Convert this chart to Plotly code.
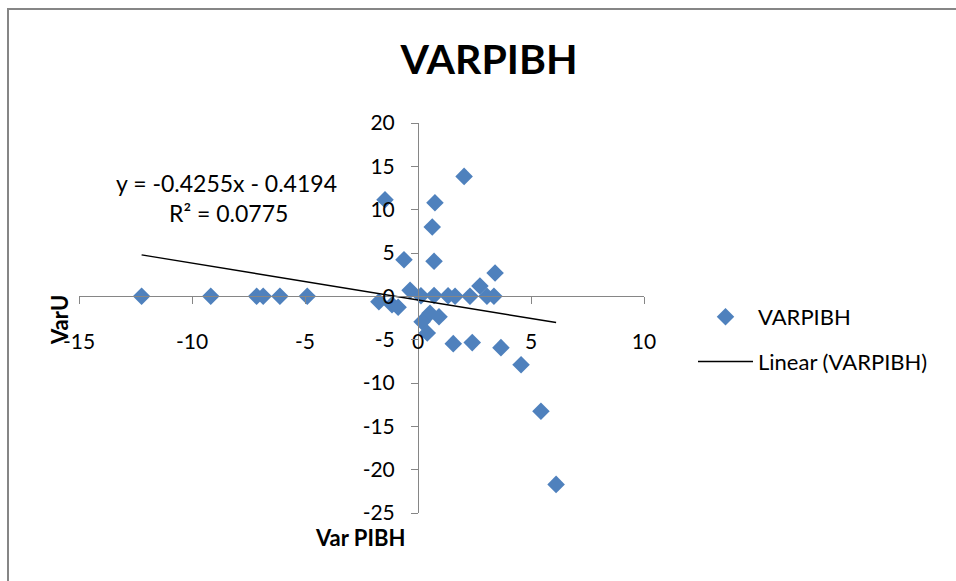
import plotly.graph_objects as go

# Data
var_pibh = [-12.23, -9.17, -7.14, -6.85, -6.11, -4.90, -1.46, 2.04, 0.75, 0.63,
            -0.62, 0.71, 3.41, -0.35, -1.73, -1.15, -0.88, 0.13, 0.71, 1.33,
            1.64, 2.30, 2.74, 3.05, 3.36, 0.53, 0.93, 0.18, 0.41, 1.56,
            2.40, 3.67, 4.56, 5.44, 6.11]
var_u = [0.0, 0.0, 0.0, 0.0, 0.0, 0.0, 11.15, 13.84, 10.8, 8.0,
         4.23, 4.04, 2.69, 0.69, -0.63, -0.98, -1.27, 0.06, 0.1, 0.06,
         0.0, 0.0, 1.2, 0.0, 0.0, -1.96, -2.36, -2.94, -4.23, -5.46,
         -5.34, -5.92, -7.9, -13.26, -21.7]

slope = -0.4255
intercept = -0.4194
eq_text = "y = -0.4255x - 0.4194"
r2_text = "R² = 0.0775"
x_ticks = [-15, -10, -5, 0, 5, 10]
x_ticktext = ["-15", "-10", "-5", "0", "5", "10"]
y_ticks = [-25, -20, -15, -10, -5, 0, 5, 10, 15, 20]
y_ticktext = ["-25", "-20", "-15", "-10", "-5", "0", "5", "10", "15", "20"]

FONT = "Lato, 'Open Sans', sans-serif"
W, H = 956, 581
L, R, T, B = 79, 312, 123, 68

xmin, xmax = min(var_pibh), max(var_pibh)
line_x = [xmin, xmax]
line_y = [slope * v + intercept for v in line_x]

fig = go.Figure()
fig.add_trace(go.Scatter(
    x=var_pibh, y=var_u, mode="markers", name="VARPIBH",
    marker=dict(symbol="diamond", size=13.5, color="#4F81BD", line=dict(width=0)),
    legendgroup="a",
))
fig.add_trace(go.Scatter(
    x=line_x, y=line_y, mode="lines", name="Linear (VARPIBH)",
    line=dict(color="black", width=1.5),
    legendgroup="b",
))

axis_common = dict(
    showgrid=False, zeroline=False, showline=True, linecolor="#868686", linewidth=1,
    ticks="outside", ticklen=7, tickcolor="#868686", tickwidth=1,
    tickfont=dict(family=FONT, size=21, color="black"),
)
fig.update_layout(
    width=W, height=H,
    margin=dict(l=L, r=R, t=T, b=B),
    paper_bgcolor="white", plot_bgcolor="white",
    xaxis=dict(range=[-15, 10], tickvals=x_ticks, ticktext=x_ticktext, anchor="free",
               position=25 / 45, ticklabelstandoff=19, **axis_common),
    yaxis=dict(range=[-25, 20], tickvals=y_ticks, ticktext=y_ticktext, anchor="free",
               position=15 / 25, ticklabelstandoff=12, **axis_common),
    title=dict(text="<b>VARPIBH</b>", font=dict(family=FONT, size=41, color="black"),
               xref="container", x=489 / W, xanchor="center",
               yref="container", y=1 - 60 / H, yanchor="middle"),
    showlegend=True,
    legend=dict(xref="container", yref="container", x=693 / W, y=1 - 296 / H,
                xanchor="left", yanchor="top", itemwidth=55,
                font=dict(family=FONT, size=22, color="black"),
                tracegroupgap=13, bgcolor="rgba(0,0,0,0)"),
    font=dict(family=FONT, color="black"),
)

annos = [
    dict(text=eq_text, x=226 / W, y=1 - 183 / H, size=23, angle=0),
    dict(text=r2_text, x=228 / W, y=1 - 213 / H, size=23, angle=0),
    dict(text="<b>VarU</b>", x=60 / W, y=1 - 320 / H, size=22, angle=-90),
    dict(text="<b>Var PIBH</b>", x=360 / W, y=1 - 537 / H, size=22, angle=0),
]
pw, ph = W - L - R, H - T - B
for a in annos:
    px = a["x"] * W
    py = (1 - a["y"]) * H
    fig.add_annotation(text=a["text"], x=(px - L) / pw, y=1 - (py - T) / ph,
                       xref="paper", yref="paper", showarrow=False, textangle=a["angle"],
                       font=dict(family=FONT, size=a["size"], color="black"),
                       xanchor="center", yanchor="middle")

# outer chart border (top and left visible)
fig.add_shape(type="rect", xref="paper", yref="paper",
              x0=(8 - L) / pw, x1=(W + 20 - L) / pw,
              y0=1 - (H + 20 - T) / ph, y1=1 - (9 - T) / ph,
              line=dict(color="#868686", width=2), fillcolor="rgba(0,0,0,0)", layer="below")

fig.write_html("out.html")
